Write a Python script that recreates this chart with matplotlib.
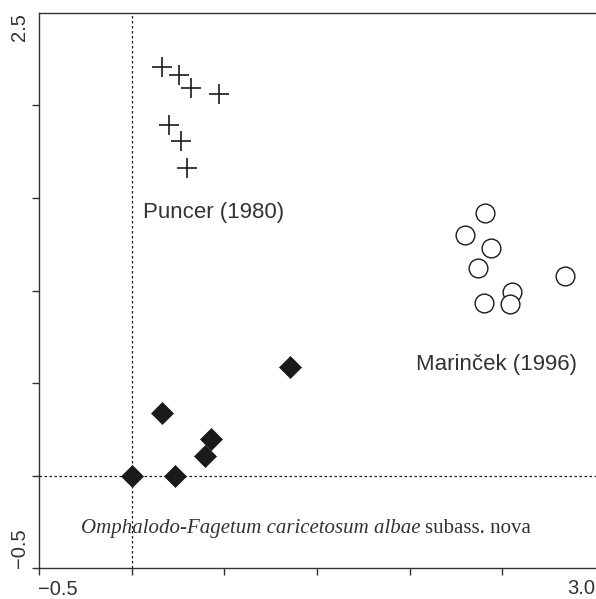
import matplotlib
matplotlib.use("Agg")
import matplotlib.pyplot as plt

# Puncer (1980) releves
puncer_x = [0.165, 0.253, 0.321, 0.468, 0.199, 0.267, 0.297]
puncer_y = [2.208, 2.164, 2.092, 2.059, 1.894, 1.809, 1.660]

# Marincek (1996) releves
marincek_x = [1.905, 1.797, 1.939, 1.871, 2.336, 2.054, 1.903, 2.040]
marincek_y = [1.417, 1.300, 1.228, 1.120, 1.080, 0.990, 0.931, 0.925]

# Omphalodo-Fagetum caricetosum albae
omph_x = [0.851, 0.165, 0.429, 0.393, 0.0, 0.235]
omph_y = [0.585, 0.337, 0.198, 0.108, 0.0, 0.0]

ink = "#1a1a1a"
sans = "Liberation Sans"
serif = "Liberation Serif"

W, H = 596, 599
fig = plt.figure(figsize=(W / 100, H / 100), dpi=100)

left_px, bottom_px, top_px, right_px = 39.3, 568.3, 12.7, 620
ax = fig.add_axes([left_px / W, (H - bottom_px) / H,
                   (right_px - left_px) / W, (bottom_px - top_px) / H])
ymin, ymax = -0.5, 2.5
unit = (bottom_px - top_px) / (ymax - ymin)
ax.set_ylim(ymin, ymax)
ax.set_xlim(-0.5, -0.5 + (right_px - left_px) / unit)

ax.axvline(0, color=ink, lw=0.9, ls=(0, (2, 2)), zorder=1)
ax.axhline(0, color=ink, lw=0.9, ls=(0, (2, 2)), zorder=1)

ax.plot(puncer_x, puncer_y, ls="none", marker="+", ms=15, mew=1.2, color=ink, zorder=3)
ax.plot(marincek_x, marincek_y, ls="none", marker="o", ms=13.5, mew=1.0,
        mfc="white", mec=ink, zorder=3)
ax.plot(omph_x, omph_y, ls="none", marker="D", ms=11.5, mew=0.5, color=ink, zorder=3)

for s in ax.spines.values():
    s.set_color("#333333")
    s.set_linewidth(1.0)

ax.set_xticks([-0.5, 0, 0.5, 1.0, 1.5, 2.0])
ax.set_yticks([-0.5, 0, 0.5, 1.0, 1.5, 2.0])
ax.set_xticklabels([])
ax.set_yticklabels([])
ax.tick_params(direction="out", length=5, width=1.0, color="#333333")

tick_font = dict(family=sans, fontsize=14.5, color="#333333")
ax.annotate("\u22120.5", xy=(-0.5, 0), xycoords=("data", "axes fraction"),
            xytext=(-1, -15.2), textcoords="offset points", ha="left", va="center", **tick_font)
fig.text(595 / W, (H - 589) / H, "3.0", ha="right", va="center", **tick_font)
ax.annotate("2.5", xy=(0, 2.5), xycoords=("axes fraction", "data"),
            xytext=(-13.9, 0), textcoords="offset points", ha="center", va="top",
            rotation=90, **tick_font)
ax.annotate("\u22120.5", xy=(0, -0.5), xycoords=("axes fraction", "data"),
            xytext=(-13.9, 0), textcoords="offset points", ha="center", va="bottom",
            rotation=90, **tick_font)

ax.text(0.059, 1.390, "Puncer (1980)", family=sans, fontsize=16, color="#333333", va="baseline")
ax.text(1.533, 0.571, "Marin\u010dek (1996)", family=sans, fontsize=16, color="#333333", va="baseline")

t1 = ax.text(-0.277, -0.309, "Omphalodo-Fagetum caricetosum albae", family=serif,
             style="italic", fontsize=15, color="#333333", va="baseline")
fig.canvas.draw()
bb = t1.get_window_extent()
x_end = ax.transData.inverted().transform((bb.x1, bb.y0))[0]
ax.text(x_end + 0.025, -0.309, "subass. nova", family=serif, fontsize=15,
        color="#333333", va="baseline")

fig.savefig("out.png", dpi=100)
